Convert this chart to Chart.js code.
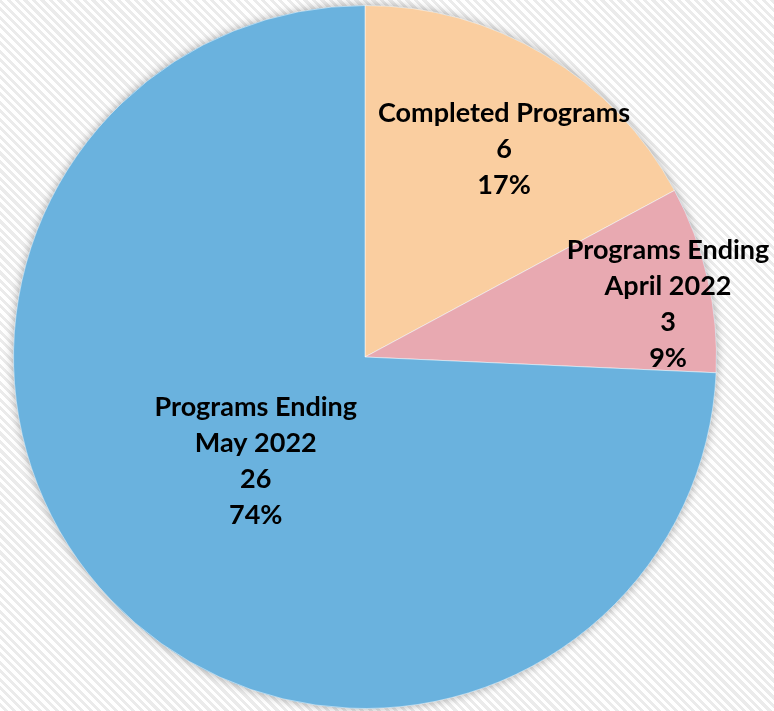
<!DOCTYPE html>
<html>
<head>
<meta charset="utf-8">
<script src="https://cdn.jsdelivr.net/npm/chart.js@4.4.1/dist/chart.umd.min.js"></script>
<style>
  html, body { margin: 0; padding: 0; }
  body {
    width: 774px; height: 711px; overflow: hidden;
    background: repeating-linear-gradient(45deg, #ffffff 0px, #ffffff 3px, #ebebeb 3px, #ebebeb 6px);
  }
  #wrap { width: 774px; height: 711px; position: relative; }
</style>
</head>
<body>
<div id="wrap"><canvas id="chart-pie"></canvas></div>
<script>
  // slices, clockwise from 12 o'clock
  const categories = ['Completed Programs', 'Programs Ending\nApril 2022', 'Programs Ending\nMay 2022'];
  const programCounts = [6, 3, 26];
  const sliceColors = ['#FACEA0', '#E8A9B1', '#6AB2DE'];
  // where each label sits: fraction of radius and small angle nudge (deg)
  const labelRadius = [0.71, 0.875, 0.43];
  const labelNudge = [3, 3, 0];

  const total = programCounts.reduce((a, b) => a + b, 0);

  const pieShadow = {
    id: 'pieShadow',
    beforeDatasetsDraw(chart) {
      const arc = chart.getDatasetMeta(0).data[0];
      if (!arc) return;
      const { ctx } = chart;
      ctx.save();
      ctx.shadowColor = 'rgba(0,0,0,0.35)';
      ctx.shadowBlur = 10;
      ctx.fillStyle = '#6AB2DE';
      ctx.beginPath();
      ctx.arc(arc.x, arc.y, arc.outerRadius, 0, Math.PI * 2);
      ctx.fill();
      ctx.restore();
    },
  };

  const sliceLabels = {
    id: 'sliceLabels',
    afterDatasetsDraw(chart) {
      const { ctx } = chart;
      const meta = chart.getDatasetMeta(0);
      ctx.save();
      ctx.font = "bold 27px Lato, 'Open Sans', sans-serif";
      ctx.fillStyle = '#000000';
      ctx.textAlign = 'center';
      ctx.textBaseline = 'middle';
      meta.data.forEach((arc, i) => {
        const mid = (arc.startAngle + arc.endAngle) / 2 + labelNudge[i] * Math.PI / 180;
        const r = arc.outerRadius * labelRadius[i];
        const cx = arc.x + Math.cos(mid) * r;
        const cy = arc.y + Math.sin(mid) * r;
        const lines = categories[i].split('\n');
        lines.push(String(programCounts[i]));
        lines.push(Math.round(programCounts[i] / total * 100) + '%');
        const lh = 36;
        const top = cy - (lines.length - 1) * lh / 2;
        lines.forEach((t, k) => ctx.fillText(t, cx, top + k * lh));
      });
      ctx.restore();
    },
  };

  new Chart(document.getElementById('chart-pie'), {
    type: 'pie',
    data: {
      labels: categories,
      datasets: [{
        data: programCounts,
        backgroundColor: sliceColors,
        borderColor: 'rgba(255,255,255,0.5)',
        borderWidth: 1,
        hoverOffset: 0,
      }],
    },
    options: {
      responsive: true, maintainAspectRatio: false,
      animation: false,
      layout: { padding: { left: 13, right: 57, top: 5, bottom: 2 } },
      plugins: { legend: { display: false }, tooltip: { enabled: false } },
    },
    plugins: [pieShadow, sliceLabels],
  });
</script>
</body>
</html>
